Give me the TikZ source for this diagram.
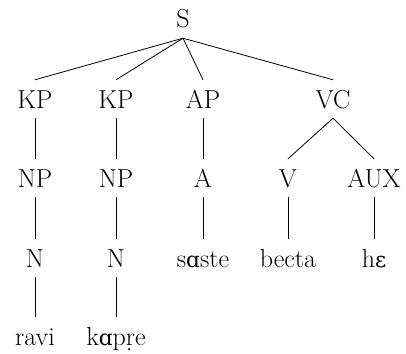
\documentclass[tikz,border=0pt]{standalone}
\usepackage{fontspec}
\newfontfamily\ipa{DejaVu Serif}[Scale=0.83]
\begin{document}
\begin{tikzpicture}[x=1pt,y=-1pt,
  lab/.style={anchor=base,font=\fontsize{26}{30}\selectfont,text height=18pt,text depth=0pt,inner xsep=0pt,inner ysep=10pt},
  edge/.style={line width=0.8pt}]
\useasboundingbox (0,0) rectangle (406,353);
\node[lab] (S) at (183,28) {S};
\node[lab] (KP1) at (35,108) {KP};
\node[lab] (KP2) at (116,108) {KP};
\node[lab] (AP) at (203,108) {AP};
\node[lab] (VC) at (333,108) {VC};
\node[lab] (NP1) at (35,187) {NP};
\node[lab] (NP2) at (116,187) {NP};
\node[lab] (A) at (203,187) {A};
\node[lab] (V) at (288,187) {V};
\node[lab] (AUX) at (374,187) {AUX};
\node[lab] (N1) at (35,267) {N};
\node[lab] (N2) at (116,267) {N};
\node[lab] (saste) at (203,267) {s{\ipa ɑ}ste};
\node[lab] (becta) at (288,267) {becta};
\node[lab] (he) at (374,267) {h{\ipa ɛ}};
\node[lab] (ravi) at (35,345) {ravi};
\node[lab] (kapre) at (116,345) {k{\ipa ɑ}p\d{r}e};
\draw[edge] (S.south) -- (KP1.north);
\draw[edge] (S.south) -- (KP2.north);
\draw[edge] (S.south) -- (AP.north);
\draw[edge] (S.south) -- (VC.north);
\draw[edge] (KP1.south) -- (NP1.north);
\draw[edge] (KP2.south) -- (NP2.north);
\draw[edge] (AP.south) -- (A.north);
\draw[edge] (VC.south) -- (V.north);
\draw[edge] (VC.south) -- (AUX.north);
\draw[edge] (NP1.south) -- (N1.north);
\draw[edge] (NP2.south) -- (N2.north);
\draw[edge] (A.south) -- (saste.north);
\draw[edge] (V.south) -- (becta.north);
\draw[edge] (AUX.south) -- (he.north);
\draw[edge] (N1.south) -- (ravi.north);
\draw[edge] (N2.south) -- (kapre.north);
\end{tikzpicture}
\end{document}
